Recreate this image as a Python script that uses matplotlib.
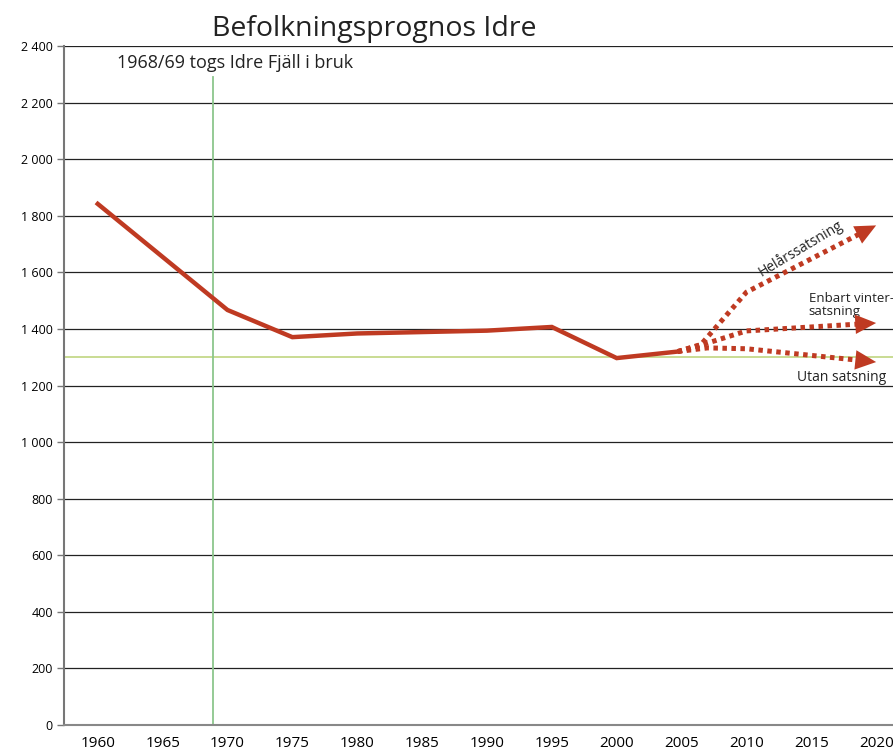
import matplotlib
matplotlib.use("Agg")
import matplotlib.pyplot as plt
import matplotlib.ticker as mticker

# historic population, solid line
years = [1960, 1970, 1975, 1980, 1990, 1995, 2000, 2004.7]
population = [1842, 1467, 1371, 1384, 1394, 1407, 1297, 1320]

# forecast scenarios (dotted with arrows)
hel_years = [2004.7, 2006.5, 2010, 2020]
hel_values = [1320, 1345, 1530, 1766]
vinter_years = [2004.7, 2007, 2010, 2020]
vinter_values = [1320, 1350, 1393, 1421]
utan_years = [2004.7, 2007, 2010, 2020]
utan_values = [1320, 1333, 1330, 1283]

yticks = list(range(0, 2401, 200))
xticks = list(range(1960, 2021, 5))
start_year = 1968.9
ref_level = 1300

red = "#bf3a22"
plt.rcParams['font.family'] = ['Open Sans', 'DejaVu Sans']

fig = plt.figure(figsize=(8.93, 7.51), dpi=100)
ax = fig.add_axes([0.0717, 0.0346, 0.9283, 0.9041])
ax.set_xlim(1957.4, 2021.3)
ax.set_ylim(0, 2400)

for v in yticks[1:]:
    ax.axhline(v, color="#222222", lw=0.9, zorder=1)
ax.axhline(ref_level, color="#c5d98a", lw=1.3, zorder=2)
ax.plot([start_year, start_year], [0, 2290], color="#8cc68c", lw=1.3, zorder=2)

ax.plot(years, population, color=red, lw=3.2, solid_joinstyle="miter", zorder=4)

for xs, ys in [(hel_years, hel_values), (vinter_years, vinter_values), (utan_years, utan_values)]:
    ax.plot(xs[:-1] + [xs[-1] - 0.5], ys[:-1] + [ys[-1] - (ys[-1] - ys[-2]) * 0.05],
            color=red, lw=3.6, linestyle=(0, (0.9, 0.9)), dash_capstyle="butt", zorder=4)
    ax.annotate("", xy=(xs[-1], ys[-1]), xytext=(xs[-1] - 0.6, ys[-1] - (ys[-1] - ys[-2]) * 0.06),
                arrowprops=dict(arrowstyle="-|>,head_length=1.5,head_width=0.7", color=red, lw=0,
                                shrinkA=0, shrinkB=0), zorder=5)

ax.text(2014.2, 1685, "Helårssatsning", rotation=31, ha="center", va="center", fontsize=10, color="#222222")
ax.text(2014.8, 1485, "Enbart vinter-\nsatsning", ha="left", va="center", fontsize=9.5,
        color="#222222", linespacing=0.95, clip_on=False)
ax.text(2013.9, 1227, "Utan satsning", ha="left", va="center", fontsize=10, color="#222222")
ax.text(1961.5, 2340, "1968/69 togs Idre Fjäll i bruk", ha="left", va="center", fontsize=13, color="#222222")

fig.text(0.2375, 0.962, "Befolkningsprognos Idre", ha="left", va="center", fontsize=20.5, color="#222222")

ax.set_yticks(yticks)
ax.yaxis.set_major_formatter(mticker.FuncFormatter(lambda v, p: f"{int(v):,}".replace(",", " ")))
ax.set_xticks(xticks)
ax.tick_params(axis="y", length=5, width=1, color="#777777", labelsize=9, pad=3)
ax.tick_params(axis="x", length=0, labelsize=11, pad=8)

for s in ["top", "right"]:
    ax.spines[s].set_visible(False)
ax.spines["left"].set_color("#777777")
ax.spines["left"].set_linewidth(1.5)
ax.spines["bottom"].set_color("#888888")
ax.spines["bottom"].set_linewidth(1.5)

fig.savefig("out.png", dpi=100)
